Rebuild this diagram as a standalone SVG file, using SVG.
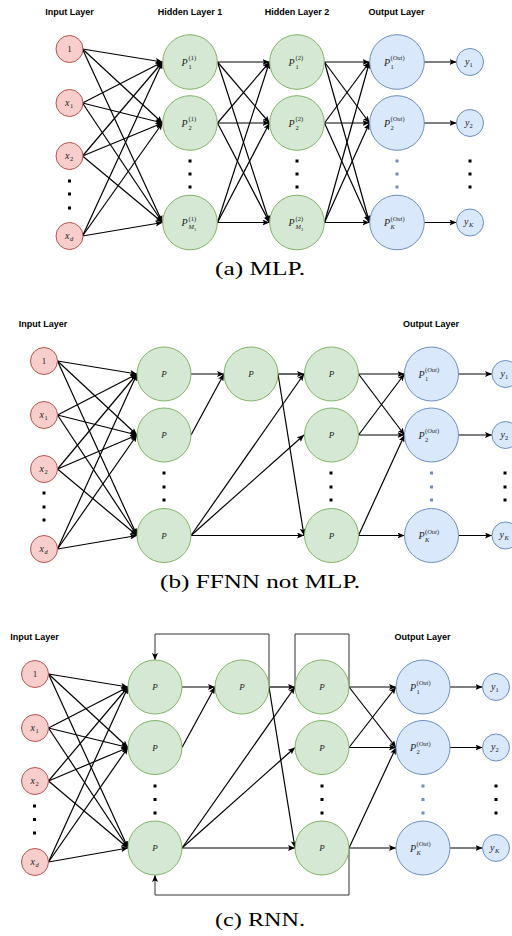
<svg xmlns="http://www.w3.org/2000/svg" width="512" height="936" viewBox="0 0 512 936">
<defs>
<marker id="ah" viewBox="0 0 7 6" refX="7" refY="3" markerWidth="7" markerHeight="6" markerUnits="userSpaceOnUse" orient="auto"><path d="M0,0 L7,3 L0,6 L1.5,3 z" fill="#000"/></marker>
<style>
.in{fill:#f8cecc;stroke:#b85450;stroke-width:1}
.hid{fill:#d5e8d4;stroke:#82b366;stroke-width:1}
.out{fill:#dae8fc;stroke:#6c8ebf;stroke-width:1}
.m{font-family:"Liberation Serif","DejaVu Serif",serif;font-style:italic;font-size:10px;fill:#222}
.u{font-style:normal}
.n{font-family:"Liberation Serif","DejaVu Serif",serif;font-size:9px;fill:#222;text-anchor:middle}
.s{font-size:6.5px}
.ss{font-size:4.5px}
.pc{text-anchor:middle;font-size:9px}
.t{font-family:"Liberation Sans",Arial,sans-serif;font-weight:bold;font-size:9px;text-anchor:middle;fill:#000}
.cap{font-family:"Liberation Serif","Times New Roman",serif;font-size:18px;text-anchor:middle;fill:#000}
.e line,.e path{stroke:#000;stroke-width:1.2;fill:none;marker-end:url(#ah)}
.e path.loop{stroke:#333;stroke-width:1}
.e path.nm{marker-end:none}
.d rect{fill:#000}
.d rect.b{fill:#6c8ebf}
</style>
</defs>
<rect width="512" height="936" fill="#fff"/>

<!-- titles and captions -->
<g id="labels">
<text class="t" x="69.5" y="15">Input Layer</text>
<text class="t" x="190" y="15">Hidden Layer 1</text>
<text class="t" x="297" y="15">Hidden Layer 2</text>
<text class="t" x="396.5" y="15">Output Layer</text>
<text class="cap" x="260" y="274.5" textLength="90" lengthAdjust="spacingAndGlyphs">(a) MLP.</text>
<text class="t" x="43" y="327">Input Layer</text>
<text class="t" x="431" y="327">Output Layer</text>
<text class="cap" x="260" y="588" textLength="200" lengthAdjust="spacingAndGlyphs">(b) FFNN not MLP.</text>
<text class="t" x="34.5" y="640">Input Layer</text>
<text class="t" x="422.5" y="640">Output Layer</text>
<text class="cap" x="260" y="926" textLength="90" lengthAdjust="spacingAndGlyphs">(c) RNN.</text>
</g>

<!-- connectors -->
<g id="connectors" class="e">
<!-- (a) input -> hidden 1 -->
<line x1="82.5" y1="49" x2="162.5" y2="62"/><line x1="82.5" y1="49" x2="162.5" y2="123"/><line x1="82.5" y1="49" x2="162.5" y2="222.5"/>
<line x1="82.5" y1="103" x2="162.5" y2="62"/><line x1="82.5" y1="103" x2="162.5" y2="123"/><line x1="82.5" y1="103" x2="162.5" y2="222.5"/>
<line x1="82.5" y1="156" x2="162.5" y2="62"/><line x1="82.5" y1="156" x2="162.5" y2="123"/><line x1="82.5" y1="156" x2="162.5" y2="222.5"/>
<line x1="82.5" y1="236" x2="162.5" y2="62"/><line x1="82.5" y1="236" x2="162.5" y2="123"/><line x1="82.5" y1="236" x2="162.5" y2="222.5"/>
<!-- (a) hidden 1 -> hidden 2 -->
<line x1="217.5" y1="62" x2="269.5" y2="62"/><line x1="217.5" y1="62" x2="269.5" y2="123"/><line x1="217.5" y1="62" x2="269.5" y2="222.5"/>
<line x1="217.5" y1="123" x2="269.5" y2="62"/><line x1="217.5" y1="123" x2="269.5" y2="123"/><line x1="217.5" y1="123" x2="269.5" y2="222.5"/>
<line x1="217.5" y1="222.5" x2="269.5" y2="62"/><line x1="217.5" y1="222.5" x2="269.5" y2="123"/><line x1="217.5" y1="222.5" x2="269.5" y2="222.5"/>
<!-- (a) hidden 2 -> output -->
<line x1="324.5" y1="62" x2="369.5" y2="62"/><line x1="324.5" y1="62" x2="369.5" y2="123"/><line x1="324.5" y1="62" x2="369.5" y2="222.5"/>
<line x1="324.5" y1="123" x2="369.5" y2="62"/><line x1="324.5" y1="123" x2="369.5" y2="123"/><line x1="324.5" y1="123" x2="369.5" y2="222.5"/>
<line x1="324.5" y1="222.5" x2="369.5" y2="62"/><line x1="324.5" y1="222.5" x2="369.5" y2="123"/><line x1="324.5" y1="222.5" x2="369.5" y2="222.5"/>
<!-- (a) output -> y -->
<line x1="424" y1="62" x2="456.5" y2="62"/><line x1="424" y1="123" x2="456.5" y2="123"/><line x1="424" y1="222.5" x2="456.5" y2="222.5"/>

<!-- (b) input -> col1 -->
<line x1="57.5" y1="361" x2="137" y2="374"/><line x1="57.5" y1="361" x2="137" y2="435"/><line x1="57.5" y1="361" x2="137" y2="535.5"/>
<line x1="57.5" y1="415" x2="137" y2="374"/><line x1="57.5" y1="415" x2="137" y2="435"/><line x1="57.5" y1="415" x2="137" y2="535.5"/>
<line x1="57.5" y1="469" x2="137" y2="374"/><line x1="57.5" y1="469" x2="137" y2="435"/><line x1="57.5" y1="469" x2="137" y2="535.5"/>
<line x1="57.5" y1="549" x2="137" y2="374"/><line x1="57.5" y1="549" x2="137" y2="435"/><line x1="57.5" y1="549" x2="137" y2="535.5"/>
<!-- (b) hidden -->
<line x1="191" y1="374" x2="224" y2="374"/>
<line x1="191" y1="435" x2="224" y2="374"/>
<line x1="191" y1="535.5" x2="304" y2="374"/><line x1="191" y1="535.5" x2="304" y2="435"/><line x1="191" y1="535.5" x2="304" y2="535.5"/>
<line x1="278" y1="374" x2="304" y2="374"/><line x1="278" y1="374" x2="304" y2="535.5"/>
<line x1="358.5" y1="374" x2="404.5" y2="374"/><line x1="358.5" y1="374" x2="404.5" y2="435"/>
<line x1="358.5" y1="435" x2="404.5" y2="374"/><line x1="358.5" y1="435" x2="404.5" y2="435"/>
<line x1="358.5" y1="535.5" x2="404.5" y2="435"/><line x1="358.5" y1="535.5" x2="404.5" y2="535.5"/>
<line x1="458.5" y1="374" x2="492" y2="374"/><line x1="458.5" y1="435" x2="492" y2="435"/><line x1="458.5" y1="535.5" x2="492" y2="535.5"/>

<!-- (c) input -> col1 -->
<line x1="48.5" y1="674" x2="128" y2="687"/><line x1="48.5" y1="674" x2="128" y2="747.5"/><line x1="48.5" y1="674" x2="128" y2="848"/>
<line x1="48.5" y1="728" x2="128" y2="687"/><line x1="48.5" y1="728" x2="128" y2="747.5"/><line x1="48.5" y1="728" x2="128" y2="848"/>
<line x1="48.5" y1="781" x2="128" y2="687"/><line x1="48.5" y1="781" x2="128" y2="747.5"/><line x1="48.5" y1="781" x2="128" y2="848"/>
<line x1="48.5" y1="862" x2="128" y2="687"/><line x1="48.5" y1="862" x2="128" y2="747.5"/><line x1="48.5" y1="862" x2="128" y2="848"/>
<!-- (c) hidden -->
<line x1="182" y1="687" x2="215" y2="687"/>
<line x1="182" y1="747.5" x2="215" y2="687"/>
<line x1="182" y1="848" x2="295" y2="687"/><line x1="182" y1="848" x2="295" y2="747.5"/><line x1="182" y1="848" x2="295" y2="848"/>
<line x1="269" y1="687" x2="295" y2="687"/><line x1="269" y1="687" x2="295" y2="848"/>
<line x1="349" y1="687" x2="396" y2="687"/><line x1="349" y1="687" x2="396" y2="747.5"/>
<line x1="349" y1="747.5" x2="396" y2="687"/><line x1="349" y1="747.5" x2="396" y2="747.5"/>
<line x1="349" y1="848" x2="396" y2="747.5"/><line x1="349" y1="848" x2="396" y2="848"/>
<line x1="450" y1="687" x2="482.5" y2="687"/><line x1="450" y1="747.5" x2="482.5" y2="747.5"/><line x1="450" y1="848" x2="482.5" y2="848"/>
<!-- (c) recurrent loops -->
<path class="loop" d="M269,687 V634 H155 V660"/>
<path class="loop nm" d="M349,687 V634 H295 V687"/>
<path class="loop" d="M349,848 V895 H155 V875"/>
</g>

<!-- ellipsis dots -->
<g id="dots" class="d">
<rect x="68" y="179.5" width="3" height="3"/><rect x="68" y="192.5" width="3" height="3"/><rect x="68" y="206.5" width="3" height="3"/>
<rect x="188.5" y="159.5" width="3" height="3"/><rect x="188.5" y="172.5" width="3" height="3"/><rect x="188.5" y="185.5" width="3" height="3"/>
<rect x="295.5" y="159.5" width="3" height="3"/><rect x="295.5" y="172.5" width="3" height="3"/><rect x="295.5" y="185.5" width="3" height="3"/>
<rect class="b" x="395.5" y="159.5" width="3" height="3"/><rect class="b" x="395.5" y="172.5" width="3" height="3"/><rect class="b" x="395.5" y="185.5" width="3" height="3"/>
<rect x="468.5" y="159.5" width="3" height="3"/><rect x="468.5" y="172.5" width="3" height="3"/><rect x="468.5" y="185.5" width="3" height="3"/>

<rect x="42.5" y="491.5" width="3" height="3"/><rect x="42.5" y="505.5" width="3" height="3"/><rect x="42.5" y="518.5" width="3" height="3"/>
<rect x="162.5" y="471.5" width="3" height="3"/><rect x="162.5" y="485.5" width="3" height="3"/><rect x="162.5" y="498.5" width="3" height="3"/>
<rect x="329.5" y="471.5" width="3" height="3"/><rect x="329.5" y="485.5" width="3" height="3"/><rect x="329.5" y="498.5" width="3" height="3"/>
<rect class="b" x="430" y="471.5" width="3" height="3"/><rect class="b" x="430" y="485.5" width="3" height="3"/><rect class="b" x="430" y="498.5" width="3" height="3"/>
<rect x="503.5" y="471.5" width="3" height="3"/><rect x="503.5" y="485.5" width="3" height="3"/><rect x="503.5" y="498.5" width="3" height="3"/>

<rect x="33" y="804.5" width="3" height="3"/><rect x="33" y="818" width="3" height="3"/><rect x="33" y="831.5" width="3" height="3"/>
<rect x="153.5" y="784.5" width="3" height="3"/><rect x="153.5" y="798" width="3" height="3"/><rect x="153.5" y="811.5" width="3" height="3"/>
<rect x="320.5" y="784.5" width="3" height="3"/><rect x="320.5" y="798" width="3" height="3"/><rect x="320.5" y="811.5" width="3" height="3"/>
<rect class="b" x="421.5" y="784.5" width="3" height="3"/><rect class="b" x="421.5" y="798" width="3" height="3"/><rect class="b" x="421.5" y="811.5" width="3" height="3"/>
<rect x="494.5" y="784.5" width="3" height="3"/><rect x="494.5" y="798" width="3" height="3"/><rect x="494.5" y="811.5" width="3" height="3"/>
</g>

<!-- ===== (a) MLP nodes ===== -->
<g id="a-in-1"><circle class="in" cx="69.5" cy="49" r="13.5"/><text class="n" x="69.5" y="52">1</text></g>
<g id="a-in-x1"><circle class="in" cx="69.5" cy="103" r="13.5"/><text class="m" x="65" y="105.5" font-size="9">x</text><text class="m s u" x="70" y="107.5">1</text></g>
<g id="a-in-x2"><circle class="in" cx="69.5" cy="156" r="13.5"/><text class="m" x="65" y="158.5" font-size="9">x</text><text class="m s u" x="70" y="160.5">2</text></g>
<g id="a-in-xd"><circle class="in" cx="69.5" cy="236" r="13.5"/><text class="m" x="65" y="238.5" font-size="9">x</text><text class="m s" x="70" y="240.5">d</text></g>

<g id="a-h1-1"><circle class="hid" cx="190" cy="62" r="27.3"/><text class="m" x="181.5" y="65.5">P</text><text class="m s u" x="188.5" y="60">(1)</text><text class="m s u" x="188.5" y="68.5">1</text></g>
<g id="a-h1-2"><circle class="hid" cx="190" cy="123" r="27.3"/><text class="m" x="181.5" y="126.5">P</text><text class="m s u" x="188.5" y="121">(1)</text><text class="m s u" x="188.5" y="129.5">2</text></g>
<g id="a-h1-m"><circle class="hid" cx="190" cy="222.5" r="27.3"/><text class="m" x="181.5" y="226">P</text><text class="m s u" x="188.5" y="220.5">(1)</text><text class="m s" x="188.5" y="229">M</text><text class="m ss u" x="194" y="230.5">1</text></g>

<g id="a-h2-1"><circle class="hid" cx="297" cy="62" r="27.3"/><text class="m" x="288.5" y="65.5">P</text><text class="m s u" x="295.5" y="60">(2)</text><text class="m s u" x="295.5" y="68.5">1</text></g>
<g id="a-h2-2"><circle class="hid" cx="297" cy="123" r="27.3"/><text class="m" x="288.5" y="126.5">P</text><text class="m s u" x="295.5" y="121">(2)</text><text class="m s u" x="295.5" y="129.5">2</text></g>
<g id="a-h2-m"><circle class="hid" cx="297" cy="222.5" r="27.3"/><text class="m" x="288.5" y="226">P</text><text class="m s u" x="295.5" y="220.5">(2)</text><text class="m s" x="295.5" y="229">M</text><text class="m ss u" x="301" y="230.5">2</text></g>

<g id="a-out-1"><circle class="out" cx="397" cy="62" r="27.3"/><text class="m" x="384" y="65.5">P</text><text class="m s" x="390.5" y="60"><tspan class="u">(</tspan>Out<tspan class="u">)</tspan></text><text class="m s u" x="390.5" y="68.5">1</text></g>
<g id="a-out-2"><circle class="out" cx="397" cy="123" r="27.3"/><text class="m" x="384" y="126.5">P</text><text class="m s" x="390.5" y="121"><tspan class="u">(</tspan>Out<tspan class="u">)</tspan></text><text class="m s u" x="390.5" y="129.5">2</text></g>
<g id="a-out-k"><circle class="out" cx="397" cy="222.5" r="27.3"/><text class="m" x="384" y="226">P</text><text class="m s" x="390.5" y="220.5"><tspan class="u">(</tspan>Out<tspan class="u">)</tspan></text><text class="m s" x="390.5" y="229">K</text></g>

<g id="a-y1"><circle class="out" cx="470" cy="62" r="13.5"/><text class="m" x="465" y="64.5" font-size="9">y</text><text class="m s u" x="469.5" y="66.5">1</text></g>
<g id="a-y2"><circle class="out" cx="470" cy="123" r="13.5"/><text class="m" x="465" y="125.5" font-size="9">y</text><text class="m s u" x="469.5" y="127.5">2</text></g>
<g id="a-yk"><circle class="out" cx="470" cy="222.5" r="13.5"/><text class="m" x="464" y="225" font-size="9">y</text><text class="m s" x="469" y="227">K</text></g>

<!-- ===== (b) FFNN nodes ===== -->
<g id="b-in-1"><circle class="in" cx="44" cy="361" r="13.5"/><text class="n" x="44" y="364">1</text></g>
<g id="b-in-x1"><circle class="in" cx="44" cy="415" r="13.5"/><text class="m" x="39.5" y="417.5" font-size="9">x</text><text class="m s u" x="44.5" y="419.5">1</text></g>
<g id="b-in-x2"><circle class="in" cx="44" cy="469" r="13.5"/><text class="m" x="39.5" y="471.5" font-size="9">x</text><text class="m s u" x="44.5" y="473.5">2</text></g>
<g id="b-in-xd"><circle class="in" cx="44" cy="549" r="13.5"/><text class="m" x="39.5" y="551.5" font-size="9">x</text><text class="m s" x="44.5" y="553.5">d</text></g>

<g id="b-h1-1"><circle class="hid" cx="164" cy="374" r="27"/><text class="m pc" x="164" y="377">P</text></g>
<g id="b-h1-2"><circle class="hid" cx="164" cy="435" r="27"/><text class="m pc" x="164" y="438">P</text></g>
<g id="b-h1-n"><circle class="hid" cx="164" cy="535.5" r="27"/><text class="m pc" x="164" y="538.5">P</text></g>
<g id="b-h2-1"><circle class="hid" cx="251" cy="374" r="27"/><text class="m pc" x="251" y="377">P</text></g>
<g id="b-h3-1"><circle class="hid" cx="331.5" cy="374" r="27"/><text class="m pc" x="331.5" y="377">P</text></g>
<g id="b-h3-2"><circle class="hid" cx="331.5" cy="435" r="27"/><text class="m pc" x="331.5" y="438">P</text></g>
<g id="b-h3-n"><circle class="hid" cx="331.5" cy="535.5" r="27"/><text class="m pc" x="331.5" y="538.5">P</text></g>

<g id="b-out-1"><circle class="out" cx="431.5" cy="374" r="27"/><text class="m" x="418.5" y="377.5">P</text><text class="m s" x="425" y="372"><tspan class="u">(</tspan>Out<tspan class="u">)</tspan></text><text class="m s u" x="425" y="380.5">1</text></g>
<g id="b-out-2"><circle class="out" cx="431.5" cy="435" r="27"/><text class="m" x="418.5" y="438.5">P</text><text class="m s" x="425" y="433"><tspan class="u">(</tspan>Out<tspan class="u">)</tspan></text><text class="m s u" x="425" y="441.5">2</text></g>
<g id="b-out-k"><circle class="out" cx="431.5" cy="535.5" r="27"/><text class="m" x="418.5" y="539">P</text><text class="m s" x="425" y="533.5"><tspan class="u">(</tspan>Out<tspan class="u">)</tspan></text><text class="m s" x="425" y="542">K</text></g>

<g id="b-y1"><circle class="out" cx="505.5" cy="374" r="13.5"/><text class="m" x="500.5" y="376.5" font-size="9">y</text><text class="m s u" x="505" y="378.5">1</text></g>
<g id="b-y2"><circle class="out" cx="505.5" cy="435" r="13.5"/><text class="m" x="500.5" y="437.5" font-size="9">y</text><text class="m s u" x="505" y="439.5">2</text></g>
<g id="b-yk"><circle class="out" cx="505.5" cy="535.5" r="13.5"/><text class="m" x="499.5" y="538" font-size="9">y</text><text class="m s" x="504.5" y="540">K</text></g>

<!-- ===== (c) RNN nodes ===== -->
<g id="c-in-1"><circle class="in" cx="35" cy="674" r="13.5"/><text class="n" x="35" y="677">1</text></g>
<g id="c-in-x1"><circle class="in" cx="35" cy="728" r="13.5"/><text class="m" x="30.5" y="730.5" font-size="9">x</text><text class="m s u" x="35.5" y="732.5">1</text></g>
<g id="c-in-x2"><circle class="in" cx="35" cy="781" r="13.5"/><text class="m" x="30.5" y="783.5" font-size="9">x</text><text class="m s u" x="35.5" y="785.5">2</text></g>
<g id="c-in-xd"><circle class="in" cx="35" cy="862" r="13.5"/><text class="m" x="30.5" y="864.5" font-size="9">x</text><text class="m s" x="35.5" y="866.5">d</text></g>

<g id="c-h1-1"><circle class="hid" cx="155" cy="687" r="27"/><text class="m pc" x="155" y="690">P</text></g>
<g id="c-h1-2"><circle class="hid" cx="155" cy="747.5" r="27"/><text class="m pc" x="155" y="750.5">P</text></g>
<g id="c-h1-n"><circle class="hid" cx="155" cy="848" r="27"/><text class="m pc" x="155" y="851">P</text></g>
<g id="c-h2-1"><circle class="hid" cx="242" cy="687" r="27"/><text class="m pc" x="242" y="690">P</text></g>
<g id="c-h3-1"><circle class="hid" cx="322" cy="687" r="27"/><text class="m pc" x="322" y="690">P</text></g>
<g id="c-h3-2"><circle class="hid" cx="322" cy="747.5" r="27"/><text class="m pc" x="322" y="750.5">P</text></g>
<g id="c-h3-n"><circle class="hid" cx="322" cy="848" r="27"/><text class="m pc" x="322" y="851">P</text></g>

<g id="c-out-1"><circle class="out" cx="423" cy="687" r="27"/><text class="m" x="410" y="690.5">P</text><text class="m s" x="416.5" y="685"><tspan class="u">(</tspan>Out<tspan class="u">)</tspan></text><text class="m s u" x="416.5" y="693.5">1</text></g>
<g id="c-out-2"><circle class="out" cx="423" cy="747.5" r="27"/><text class="m" x="410" y="751">P</text><text class="m s" x="416.5" y="745.5"><tspan class="u">(</tspan>Out<tspan class="u">)</tspan></text><text class="m s u" x="416.5" y="754">2</text></g>
<g id="c-out-k"><circle class="out" cx="423" cy="848" r="27"/><text class="m" x="410" y="851.5">P</text><text class="m s" x="416.5" y="846"><tspan class="u">(</tspan>Out<tspan class="u">)</tspan></text><text class="m s" x="416.5" y="854.5">K</text></g>

<g id="c-y1"><circle class="out" cx="496" cy="687" r="13.5"/><text class="m" x="491" y="689.5" font-size="9">y</text><text class="m s u" x="495.5" y="691.5">1</text></g>
<g id="c-y2"><circle class="out" cx="496" cy="747.5" r="13.5"/><text class="m" x="491" y="750" font-size="9">y</text><text class="m s u" x="495.5" y="752">2</text></g>
<g id="c-yk"><circle class="out" cx="496" cy="848" r="13.5"/><text class="m" x="490" y="850.5" font-size="9">y</text><text class="m s" x="495" y="852.5">K</text></g>
</svg>
